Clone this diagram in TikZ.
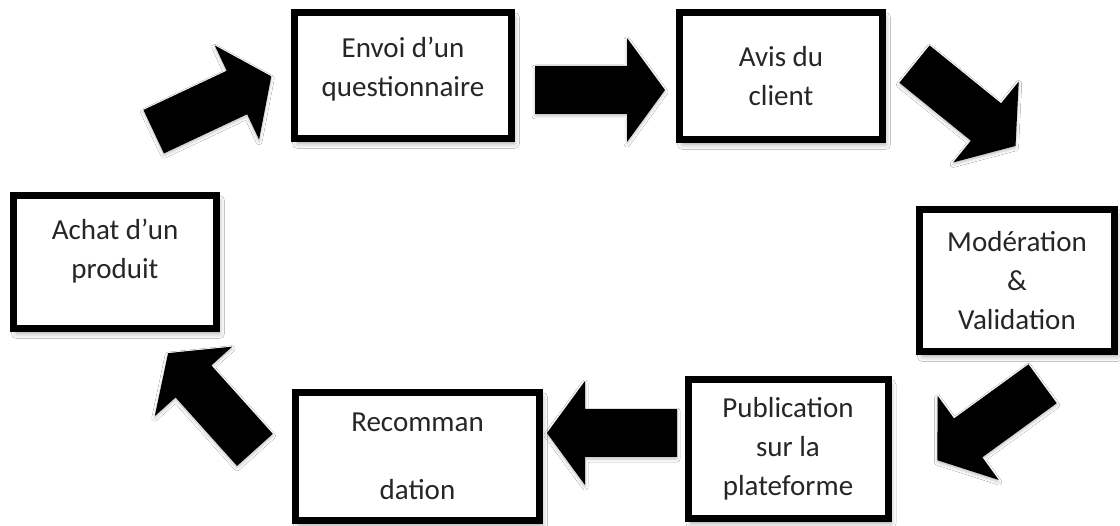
\documentclass[tikz,border=0pt]{standalone}
\usepackage{fontspec}
\setmainfont{Carlito}
\usetikzlibrary{shadows, shadows.blur}
\tikzset{
    etape/.style n args={2}{draw=black, line width=7pt, fill=white,
        minimum width=#1, minimum height=#2, inner sep=0pt, align=center,
        font=\fontsize{29}{39}\selectfont, text=black!85,
        blur shadow={shadow xshift=3pt, shadow yshift=-5pt, shadow blur radius=5pt, shadow opacity=35}
    },
    grossefleche/.pic={
        \fill[black, blur shadow={shadow xshift=0pt, shadow yshift=-2pt, shadow blur radius=3pt, shadow opacity=25}]
            (-65,-24) -- (27,-24) -- (27,-52) -- (65,0) -- (27,52) -- (27,24) -- (-65,24) -- cycle;
    }
}

\begin{document}
\begin{tikzpicture}[x=1pt, y=-1pt]
    \useasboundingbox[fill=white] (0,0) rectangle (1120,526);
    % etapes
    \node[etape={203pt}{133pt}, text depth=26pt] (achat) at (115,262) {Achat d’un\\produit};
    \node[etape={217pt}{126pt}, text depth=18pt] (envoi) at (403,75.5) {Envoi d’un\\questionnaire};
    \node[etape={203pt}{127pt}] (avis) at (781,76) {Avis du\\client};
    \node[etape={195pt}{142pt}] (moder) at (1017,280.5) {Modération\\\&\\Validation};
    \node[etape={200pt}{139pt}] (publi) at (788,449) {Publication\\sur la\\plateforme};
    \node[etape={244pt}{128pt}] (recom) at (417.5,456.5) {Recomman\\[29pt]dation};
    % fleches
    \pic[rotate=25.2] (f1) at (212.5,104) {grossefleche};
    \pic[rotate=0] (f2) at (600,90) {grossefleche};
    \pic[rotate=-39] (f3) at (965,105) {grossefleche};
    \pic[rotate=-144] (f4) at (990,422) {grossefleche};
    \pic[rotate=180] (f5) at (612,433) {grossefleche};
    \pic[rotate=131.9] (f6) at (211.5,401.5) {grossefleche};
\end{tikzpicture}
\end{document}
